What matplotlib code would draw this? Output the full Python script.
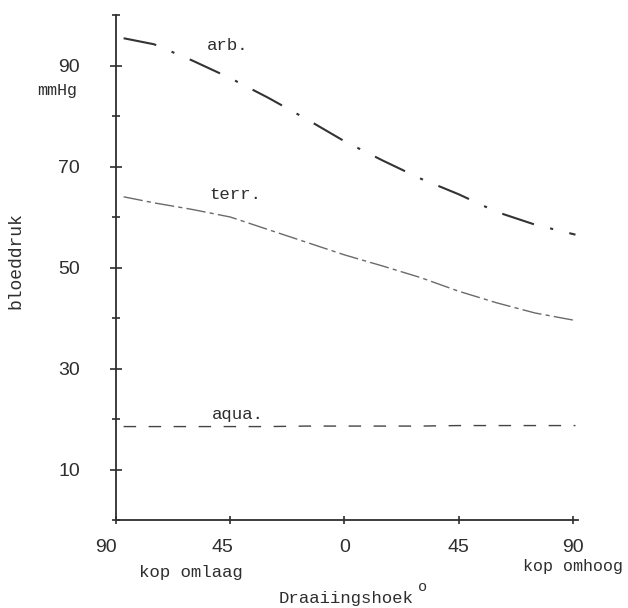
import matplotlib
matplotlib.use("Agg")
import matplotlib.pyplot as plt
import matplotlib.transforms as mtransforms
import numpy as np

# head rotation angle (negative = head down, positive = head up)
angles = [-87, -75, -60, -45, -30, -15, 0, 15, 30, 45, 60, 75, 91]
arb = [95.4, 94.2, 91.0, 87.5, 83.6, 79.4, 75.0, 71.2, 67.6, 64.5, 61.0, 58.5, 56.5]
terr = [64.0, 62.8, 61.5, 60.0, 57.5, 55.0, 52.5, 50.3, 48.0, 45.3, 43.0, 41.0, 39.5]
aqua = [18.5, 18.5, 18.5, 18.5, 18.5, 18.6, 18.6, 18.6, 18.6, 18.7, 18.7, 18.7, 18.7]

xticks = [-90, -45, 0, 45, 90]
xticklabels = ["90", "45", "0", "45", "90"]
yticks = [10, 30, 50, 70, 90]
yminor = [0, 20, 40, 60, 80, 100]

mono = "Liberation Mono"
ink = "#2e2e2e"

fig = plt.figure(figsize=(6.28, 6.08), dpi=100)
ax = fig.add_axes([116 / 628, 88 / 608, 462 / 628, 505 / 608])

ax.plot(angles, arb, color="#333333", lw=1.5, linestyle=(0, (16, 8, 1.5, 8)))
ax.plot(angles, terr, color="#6a6a6a", lw=1.0, linestyle=(0, (14, 3, 3, 3)))
ax.plot(angles, aqua, color="#444444", lw=1.0, linestyle=(0, (9, 9)))

ax.set_xlim(-90, 92)
ax.set_ylim(0, 100)

for s in ["top", "right"]:
    ax.spines[s].set_visible(False)
for s in ["left", "bottom"]:
    ax.spines[s].set_color(ink)
    ax.spines[s].set_linewidth(1.3)

ax.set_xticks(xticks)
ax.set_xticklabels(xticklabels)
ax.set_yticks(yticks)
ax.set_yticks(yminor, minor=True)
ax.tick_params(axis="both", which="both", direction="inout", color=ink, width=1.2)
ax.tick_params(axis="y", which="major", length=8, pad=22, labelsize=14, labelcolor=ink)
ax.tick_params(axis="y", which="minor", length=6)
ax.tick_params(axis="x", which="major", length=6, pad=11, labelsize=14, labelcolor=ink)
for lab in ax.get_xticklabels() + ax.get_yticklabels():
    lab.set_family("Liberation Sans")

# the hand-lettered left labels sit a bit left of their ticks
for lab, dx in zip(ax.get_xticklabels(), [-10, -8, 0, 0, 0]):
    lab.set_transform(lab.get_transform() + mtransforms.ScaledTranslation(dx / 100, 0, fig.dpi_scale_trans))

ax.text(-46, 94, "arb.", family=mono, fontsize=12.5, color=ink, ha="center", va="center")
ax.text(-43, 64.4, "terr.", family=mono, fontsize=12.5, color=ink, ha="center", va="center")
ax.text(-42, 20.8, "aqua.", family=mono, fontsize=12.5, color=ink, ha="center", va="center")

fig.text(57 / 628, 1 - 91 / 608, "mmHg", family=mono, fontsize=12, color=ink, ha="center", va="center")
fig.text(16 / 628, 1 - 261 / 608, "bloeddruk", family=mono, fontsize=13, color=ink,
         ha="center", va="center", rotation=90)
fig.text(191 / 628, 1 - 573 / 608, "kop omlaag", family=mono, fontsize=12.5, color=ink, ha="center", va="center")
fig.text(573 / 628, 1 - 566 / 608, "kop omhoog", family=mono, fontsize=12, color=ink, ha="center", va="center")
fig.text(346 / 628, 1 - 599 / 608, "Draaiingshoek", family=mono, fontsize=12.5, color=ink, ha="center", va="center")
fig.text(423 / 628, 1 - 587 / 608, "o", family=mono, fontsize=11, color=ink, ha="center", va="center")

fig.savefig("out.png", dpi=100, facecolor="white")
